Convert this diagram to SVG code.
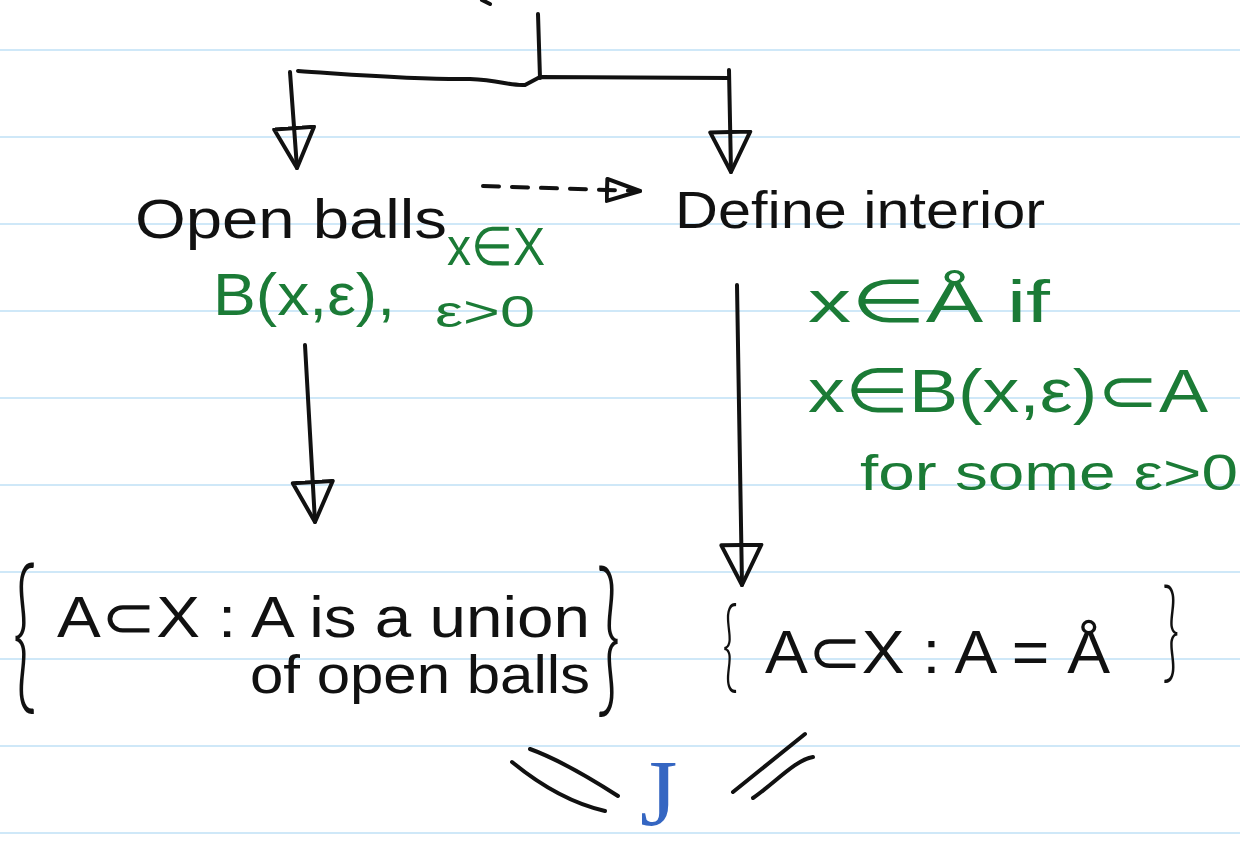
<svg xmlns="http://www.w3.org/2000/svg" width="1240" height="845" viewBox="0 0 1240 845">
<defs>
<style>
.rule{stroke:#cfe8f8;stroke-width:2}
.ink{fill:#111;font-family:"Liberation Sans",Arial,sans-serif}
.grn{fill:#1b7b36;font-family:"Liberation Sans",Arial,sans-serif}
.blu{fill:#3566c2;font-family:"Liberation Serif","Times New Roman",serif}
.brace{fill:#111;font-family:"Lato","Liberation Sans",sans-serif;font-weight:300}
.line{fill:none;stroke:#111;stroke-width:4;stroke-linecap:round;stroke-linejoin:round}
</style>
<marker id="head" markerUnits="userSpaceOnUse" viewBox="-2 -24 46 48" refX="40" refY="0" markerWidth="46" markerHeight="48" orient="auto">
<path d="M0,-20 L0,20 L40,0 Z" fill="none" stroke="#111" stroke-width="4" stroke-linejoin="round"/>
</marker>
<marker id="headS" markerUnits="userSpaceOnUse" viewBox="-2 -14 38 28" refX="33" refY="0" markerWidth="38" markerHeight="28" orient="auto">
<path d="M0,-11 L0,11 L33,0 Z" fill="none" stroke="#111" stroke-width="4" stroke-linejoin="round"/>
</marker>
</defs>
<rect width="1240" height="845" fill="#fff"/>
<g id="rules">
<line class="rule" x1="0" y1="50" x2="1240" y2="50"/>
<line class="rule" x1="0" y1="137" x2="1240" y2="137"/>
<line class="rule" x1="0" y1="224" x2="1240" y2="224"/>
<line class="rule" x1="0" y1="311" x2="1240" y2="311"/>
<line class="rule" x1="0" y1="398" x2="1240" y2="398"/>
<line class="rule" x1="0" y1="485" x2="1240" y2="485"/>
<line class="rule" x1="0" y1="572" x2="1240" y2="572"/>
<line class="rule" x1="0" y1="659" x2="1240" y2="659"/>
<line class="rule" x1="0" y1="746" x2="1240" y2="746"/>
<line class="rule" x1="0" y1="833" x2="1240" y2="833"/>
</g>
<g id="connectors">
<path class="line" d="M482,0 L490,4"/>
<path class="line" d="M538,14 L540,78"/>
<path class="line" d="M298,71 C360,75 420,80 470,79 C500,80 510,86 525,85 L540,77 L729,78"/>
<path class="line" d="M290,72 L297,168" marker-end="url(#head)"/>
<path class="line" d="M729,70 L731,172" marker-end="url(#head)"/>
<path class="line" d="M483,186 L640,191" stroke-dasharray="16 13" marker-end="url(#headS)"/>
<path class="line" d="M305,345 L315,522" marker-end="url(#head)"/>
<path class="line" d="M737,285 L742,585" marker-end="url(#head)"/>
<path class="line" d="M512,762 C540,785 570,803 605,811"/>
<path class="line" d="M530,749 C560,760 590,778 618,796"/>
<path class="line" d="M733,792 C760,770 785,750 805,734"/>
<path class="line" d="M753,798 C775,783 795,760 813,757"/>
</g>
<g id="node-open-balls">
<text class="ink" x="135" y="238" font-size="56" textLength="312" lengthAdjust="spacingAndGlyphs">Open balls</text>
</g>
<g id="node-ball-note">
<text class="grn" x="447" y="265" font-size="54" textLength="98" lengthAdjust="spacingAndGlyphs">x∈X</text>
<text class="grn" x="213" y="315" font-size="60" textLength="182" lengthAdjust="spacingAndGlyphs">B(x,ε),</text>
<text class="grn" x="435" y="327" font-size="44" textLength="100" lengthAdjust="spacingAndGlyphs">ε&gt;0</text>
</g>
<g id="node-define-interior">
<text class="ink" x="675" y="228" font-size="52" textLength="370" lengthAdjust="spacingAndGlyphs">Define interior</text>
</g>
<g id="node-interior-note">
<text class="grn" x="808" y="322" font-size="60" textLength="242" lengthAdjust="spacingAndGlyphs">x∈Å  if</text>
<text class="grn" x="808" y="412" font-size="62" textLength="400" lengthAdjust="spacingAndGlyphs">x∈B(x,ε)⊂A</text>
<text class="grn" x="860" y="490" font-size="50" textLength="378" lengthAdjust="spacingAndGlyphs">for some ε&gt;0</text>
</g>
<g id="node-open-sets">
<text class="brace" transform="translate(12,692) scale(0.5,1)" font-size="170">{</text>
<text class="ink" x="57" y="637" font-size="58" textLength="533" lengthAdjust="spacingAndGlyphs">A⊂X : A is a union</text>
<text class="ink" x="250" y="693" font-size="54" textLength="340" lengthAdjust="spacingAndGlyphs">of open balls</text>
<text class="brace" transform="translate(596,695) scale(0.5,1)" font-size="170">}</text>
</g>
<g id="node-interior-sets">
<text class="brace" transform="translate(722,680) scale(0.55,1)" font-size="100">{</text>
<text class="ink" x="765" y="673" font-size="62" textLength="345" lengthAdjust="spacingAndGlyphs">A⊂X : A = Å</text>
<text class="brace" transform="translate(1162,668) scale(0.55,1)" font-size="110">}</text>
</g>
<g id="node-equal">
<text class="blu" x="640" y="826" font-size="96">J</text>
</g>
</svg>
